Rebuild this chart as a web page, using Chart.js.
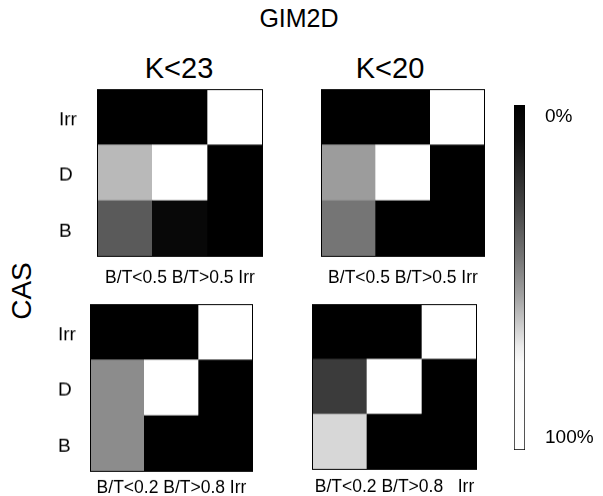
<!DOCTYPE html>
<html><head><meta charset="utf-8">
<script src="https://cdn.jsdelivr.net/npm/chart.js@4.4.1/dist/chart.umd.min.js"></script>
<style>
html,body{margin:0;padding:0;background:#fff;overflow:hidden;}
#wrap{position:relative;width:603px;height:496px;background:#fff;overflow:hidden;font-family:"Liberation Sans",Arial,sans-serif;color:#000;}
canvas{position:absolute;}
.t{position:absolute;transform:translate(-50%,-50%);white-space:nowrap;line-height:1;}
</style></head><body>
<div id="wrap">
<div class="t" style="left:299px;top:18px;font-size:25px">GIM2D</div>
<div class="t" style="left:179px;top:68px;font-size:29px">K&lt;23</div>
<div class="t" style="left:390px;top:68px;font-size:29px">K&lt;20</div>
<div class="t" style="left:22px;top:291px;font-size:28px;transform:translate(-50%,-50%) rotate(-90deg)">CAS</div>
<canvas id="pTL"></canvas>
<canvas id="pTR"></canvas>
<canvas id="pBL"></canvas>
<canvas id="pBR"></canvas>
<canvas id="cbar"></canvas>
</div>
<script>
// ---- data ----
const rowLabels = ['Irr', 'D', 'B'];                 // CAS classes, top to bottom
const colLabelsUpper = ['B/T<0.5', 'B/T>0.5', 'Irr']; // GIM2D classes, upper panels
const colLabelsLower = ['B/T<0.2', 'B/T>0.8', 'Irr']; // GIM2D classes, lower panels
// percentages, rows Irr / D / B, columns as labels
const k23Upper = [[0, 0, 100], [60, 100, 0], [36, 5, 0]];
const k20Upper = [[0, 0, 100], [54, 100, 0], [44, 0, 0]];
const k23Lower = [[0, 0, 100], [50, 100, 0], [50, 0, 0]];
const k20Lower = [[0, 0, 100], [26, 100, 0], [66, 0, 0]];
const colorbarTicks = [0, 100];

// ---- style ----
const cmap = [[0, 0], [10, 15], [30, 70], [45, 120], [55, 160], [65, 210], [70, 235], [75, 250], [100, 255]];
function grayFor(p) {
  for (let i = 1; i < cmap.length; i++) {
    if (p <= cmap[i][0]) {
      const [p0, g0] = cmap[i - 1], [p1, g1] = cmap[i];
      const g = Math.round(g0 + (g1 - g0) * (p - p0) / (p1 - p0));
      return `rgb(${g},${g},${g})`;
    }
  }
  return 'rgb(255,255,255)';
}
Chart.defaults.font.family = '"Liberation Sans", Arial, sans-serif';
Chart.defaults.color = '#000';

const framePlugin = {
  id: 'frame',
  afterDatasetsDraw(chart) {
    const { ctx, chartArea: a } = chart;
    ctx.save();
    ctx.strokeStyle = '#000';
    ctx.lineWidth = 1;
    ctx.strokeRect(Math.round(a.left) + 0.5, Math.round(a.top) + 0.5,
      Math.round(a.right - a.left) - 1, Math.round(a.bottom - a.top) - 1);
    ctx.restore();
  }
};

const TITLE_SIZE = 17.5;
function makePanel(id, values, cols, spec) {
  const canvas = document.getElementById(id);
  const padL = 4, padT = 20, padR = 4, padB = 2;
  const hasY = spec.labelsLeft != null;
  const yW = hasY ? spec.area.left - spec.labelsLeft : 0;
  const left = spec.area.left - yW - padL;
  const top = spec.area.top - padT;
  const w = spec.area.right + padR - left;
  const xH = spec.titleOffset + TITLE_SIZE * 1.2 / 2;
  const h = padT + (spec.area.bottom - spec.area.top) + xH + padB;
  canvas.width = w; canvas.height = h;
  Object.assign(canvas.style, { left: left + 'px', top: top + 'px', width: w + 'px', height: h + 'px' });
  const n = rowLabels.length;
  const datasets = [];
  for (let ri = n - 1; ri >= 0; ri--) {
    datasets.push({
      label: rowLabels[ri],
      data: cols.map(() => 1),
      backgroundColor: values[ri].map(grayFor),
      borderWidth: 0,
      barPercentage: 1,
      categoryPercentage: 1
    });
  }
  const titleText = spec.titleParts ? spec.titleParts(cols) : cols.join(' ');
  new Chart(canvas, {
    type: 'bar',
    data: { labels: cols, datasets },
    options: {
      responsive: false, animation: false, devicePixelRatio: 1, events: [],
      layout: { padding: { left: padL, top: padT, right: padR, bottom: padB } },
      plugins: { legend: { display: false }, tooltip: { enabled: false } },
      scales: {
        x: {
          stacked: true,
          grid: { display: false }, border: { display: false },
          ticks: { display: false },
          title: { display: true, text: titleText, color: '#000', padding: 0, font: { size: TITLE_SIZE } },
          afterFit: s => { s.height = xH; }
        },
        y: {
          stacked: true, display: hasY, min: 0, max: n,
          grid: { display: false, drawTicks: false }, border: { display: false },
          afterBuildTicks: s => { s.ticks = rowLabels.map((_, i) => ({ value: i + 0.5 })); },
          ticks: {
            crossAlign: 'far', padding: 0, labelOffset: 3, color: '#000', font: { size: 19 },
            callback: v => rowLabels[n - 1 - Math.floor(v)]
          },
          afterFit: s => { s.width = yW; }
        }
      }
    },
    plugins: [framePlugin]
  });
}

makePanel('pTL', k23Upper, colLabelsUpper, { area: { left: 97, top: 89, right: 263, bottom: 256 }, labelsLeft: 59, titleOffset: 22 });
makePanel('pTR', k20Upper, colLabelsUpper, { area: { left: 321, top: 89, right: 485, bottom: 256 }, titleOffset: 22 });
makePanel('pBL', k23Lower, colLabelsLower, { area: { left: 90, top: 304, right: 253, bottom: 471 }, labelsLeft: 58, titleOffset: 17 });
makePanel('pBR', k20Lower, colLabelsLower, { area: { left: 312, top: 304, right: 477, bottom: 469 }, titleOffset: 18,
  titleParts: c => c[0] + ' ' + c[1] + '   ' + c[2] });

// ---- colour bar ----
(function () {
  const canvas = document.getElementById('cbar');
  const left = 505, top = 45, w = 98, h = 465;
  canvas.width = w; canvas.height = h;
  Object.assign(canvas.style, { left: left + 'px', top: top + 'px', width: w + 'px', height: h + 'px' });
  const lo = colorbarTicks[0], hi = colorbarTicks[colorbarTicks.length - 1];
  new Chart(canvas, {
    type: 'bar',
    data: {
      labels: [''],
      datasets: [{
        data: [[lo, hi]],
        backgroundColor: ctx => {
          const chart = ctx.chart, s = chart.scales.y;
          if (!chart.chartArea || !s) return '#888';
          const g = chart.ctx.createLinearGradient(0, s.getPixelForValue(lo), 0, s.getPixelForValue(hi));
          cmap.forEach(([p, v]) => g.addColorStop((p - lo) / (hi - lo), `rgb(${v},${v},${v})`));
          return g;
        },
        borderColor: '#000', borderWidth: 1, borderSkipped: false,
        barPercentage: 1, categoryPercentage: 1
      }]
    },
    options: {
      responsive: false, animation: false, devicePixelRatio: 1, events: [],
      layout: { padding: { left: 9, top: 60, right: 0, bottom: 60 } },
      plugins: { legend: { display: false }, tooltip: { enabled: false } },
      scales: {
        x: { display: false },
        y: {
          position: 'right', min: lo, max: hi, reverse: true,
          grid: { display: false, drawTicks: false }, border: { display: false },
          afterBuildTicks: s => { s.ticks = colorbarTicks.map(v => ({ value: v })); },
          afterFit: s => { s.width = 78; },
          ticks: {
            padding: 20, color: '#000', font: { size: 19, lineHeight: 1.27 },
            // label sits just inside the bar end
            callback: v => v === lo ? ['', v + '%'] : [v + '%', '']
          }
        }
      }
    }
  });
})();
</script>
</body></html>
